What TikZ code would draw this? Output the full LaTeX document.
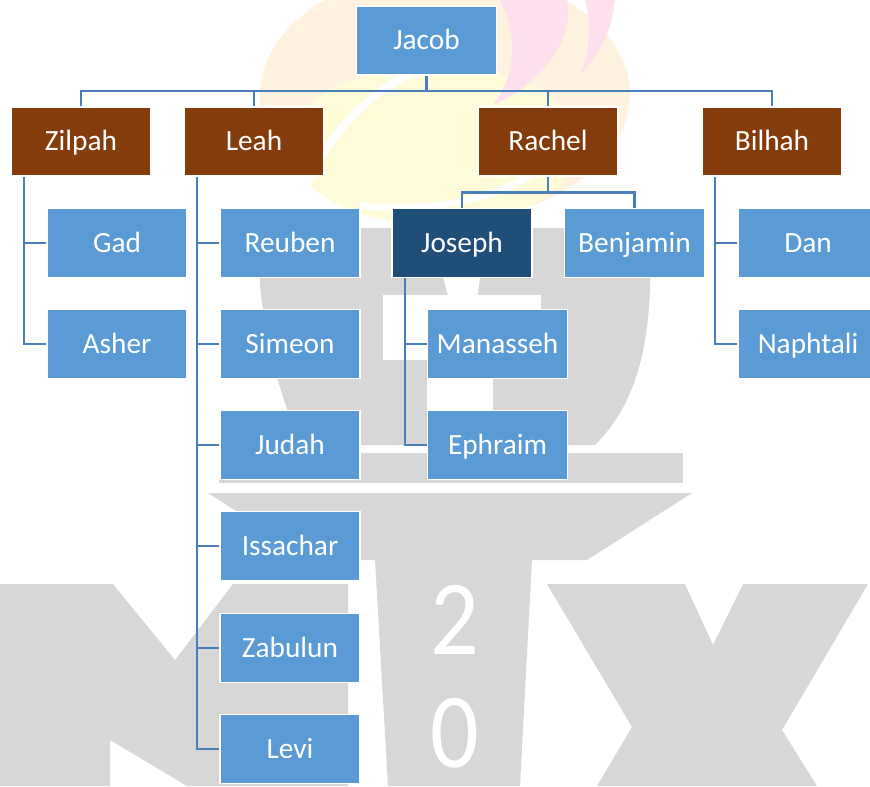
\documentclass[tikz,border=0pt]{standalone}
\usepackage{fontspec}
\setmainfont{Carlito}
\newfontfamily\boxfont{Carlito}
\definecolor{boxblue}{RGB}{91,155,213}
\definecolor{boxbrown}{RGB}{132,60,12}
\definecolor{boxdark}{RGB}{31,78,121}
\definecolor{linec}{RGB}{74,126,187}
\definecolor{wmgray}{RGB}{215,215,215}
\definecolor{wmorange}{RGB}{255,242,222}
\definecolor{wmyellow}{RGB}{255,252,218}
\definecolor{wmpink}{RGB}{254,224,238}
\tikzset{
  box/.style={draw=white, line width=1.2pt, minimum width=105pt, minimum height=51.75pt,
    inner sep=0pt, text=white, text height=18pt, text depth=4pt,
    font=\boxfont\fontsize{22}{26}\selectfont},
  bluebox/.style={box, fill=boxblue},
  brownbox/.style={box, fill=boxbrown},
  darkbox/.style={box, fill=boxdark},
  conn/.style={draw=linec, line width=1.8pt},
  wm/.style={fill=wmgray, draw=none},
  wmwhite/.style={fill=white, draw=none},
  digit/.style={text=white, inner sep=0pt, font=\boxfont\fontsize{80}{80}\selectfont, xscale=0.9}
}
\begin{document}
\begin{tikzpicture}[x=0.75pt,y=-0.75pt]
\useasboundingbox (0,0) rectangle (870,786);
% ---------- watermark: coloured logo ----------
\fill[wmorange] (445,95) ellipse [x radius=185, y radius=125];
\fill[wmyellow] (435,145) ellipse [x radius=145, y radius=80];
\draw[white, line width=6pt] (300,200) .. controls (330,120) and (400,60) .. (470,60);
\draw[white, line width=5pt] (360,205) .. controls (420,215) and (520,200) .. (560,150);
\fill[wmpink] (500,0) -- (567,0) .. controls (575,40) and (540,85) .. (493,105)
   .. controls (520,70) and (515,30) .. (500,0) -- cycle;
\fill[wmpink] (585,0) -- (615,0) .. controls (612,30) and (600,55) .. (580,75)
   .. controls (590,50) and (592,25) .. (585,0) -- cycle;
% ---------- watermark: grey shapes ----------
\path[wm] (257,228) -- (650,228) -- (650,285) .. controls (648,370) and (625,415) .. (595,445)
   -- (305,445) .. controls (285,420) and (265,340) .. (260,285) -- cycle;
\path[wmwhite] (383,295) rectangle (541,360);
\path[wmwhite] (427,360) rectangle (493,447);
\path[wmwhite] (443,277) -- (480,277) -- (477,303) -- (450,303) -- cycle;
\path[wm] (219,453) rectangle (683,483);
\path[wm] (208,493) -- (692,493) -- (587,560) -- (532,560) -- (520,786) -- (388,786)
   -- (375,560) -- (313,560) -- cycle;
\path[wm] (0,584) -- (113,584) -- (175,660) -- (233,584) -- (348,584) -- (348,786)
   -- (187,786) -- (110,740) -- (110,786) -- (0,786) -- cycle;
\path[wm] (547,584) -- (685,584) -- (713,645) -- (743,584) -- (868,584) -- (782,730)
   -- (817,786) -- (597,786) -- (632,727) -- cycle;
\node[digit] (two) at (455,620) {2};
\node[digit] (zero) at (455,733) {0};
% ---------- nodes ----------
\node[bluebox] (jacob) at (426.5,40.5) {Jacob};
\node[brownbox] (zil) at (81,141.5) {Zilpah};
\node[brownbox] (leah) at (254,141.5) {Leah};
\node[brownbox] (rachel) at (548,141.5) {Rachel};
\node[brownbox] (bil) at (772,141.5) {Bilhah};
\node[bluebox] (gad) at (117,243) {Gad};
\node[bluebox] (asher) at (117,344) {Asher};
\node[bluebox] (reuben) at (290,243) {Reuben};
\node[bluebox] (simeon) at (290,344) {Simeon};
\node[bluebox] (judah) at (290,445) {Judah};
\node[bluebox] (issachar) at (290,546) {Issachar};
\node[bluebox] (zabulun) at (290,648) {Zabulun};
\node[bluebox] (levi) at (290,749) {Levi};
\node[darkbox] (joseph) at (462,243) {Joseph};
\node[bluebox] (benjamin) at (634.5,243) {Benjamin};
\node[bluebox] (manasseh) at (497.5,344) {Manasseh};
\node[bluebox] (ephraim) at (497.5,445) {Ephraim};
\node[bluebox] (dan) at (808,243) {Dan};
\node[bluebox] (naphtali) at (808,344) {Naphtali};
% ---------- helper coordinates ----------
\coordinate (bar) at (0,91);
\coordinate (rbar) at (0,192.5);
\coordinate (zx) at (24,0);
\coordinate (lx) at (197,0);
\coordinate (jx) at (405,0);
\coordinate (bx) at (715,0);
% ---------- connectors ----------
\draw[conn] (jacob.south) -- (jacob.south |- bar);
\draw[conn] (zil.north) |- (bil.north |- bar) -- (bil.north);
\draw[conn] (leah.north) -- (leah.north |- bar);
\draw[conn] (rachel.north) -- (rachel.north |- bar);
% Zilpah
\draw[conn] (zx |- zil.south) |- (asher.west);
\draw[conn] (zx |- gad.west) -- (gad.west);
% Leah
\draw[conn] (lx |- leah.south) |- (levi.west);
\draw[conn] (lx |- reuben.west) -- (reuben.west);
\draw[conn] (lx |- simeon.west) -- (simeon.west);
\draw[conn] (lx |- judah.west) -- (judah.west);
\draw[conn] (lx |- issachar.west) -- (issachar.west);
\draw[conn] (lx |- zabulun.west) -- (zabulun.west);
% Rachel
\draw[conn] (rachel.south) -- (rachel.south |- rbar);
\draw[conn] (joseph.north) |- (benjamin.north |- rbar) -- (benjamin.north);
% Joseph
\draw[conn] (jx |- joseph.south) |- (ephraim.west);
\draw[conn] (jx |- manasseh.west) -- (manasseh.west);
% Bilhah
\draw[conn] (bx |- bil.south) |- (naphtali.west);
\draw[conn] (bx |- dan.west) -- (dan.west);
\end{tikzpicture}
\end{document}
